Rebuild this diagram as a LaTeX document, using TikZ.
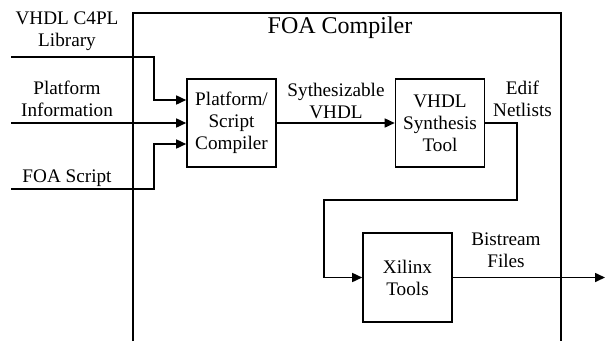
\documentclass[tikz,border=0pt]{standalone}
\usepackage{fontspec}
\setmainfont{Liberation Serif}
\usetikzlibrary{positioning, arrows.meta}

\tikzset{
  wire/.style={line width=1.6pt},
  feed/.style={wire, -{Triangle[length=10pt,width=9pt]}},
  block/.style={draw, line width=1.6pt, minimum width=89pt, minimum height=88pt, inner sep=0pt, align=center},
  caption/.style={align=center, inner sep=0pt}
}

\begin{document}
\begin{tikzpicture}[x=1pt, y=-1pt, font=\fontsize{19.2}{22}\selectfont]
\useasboundingbox (0,0) rectangle (605,341);

% compiler frame (open at the bottom)
\coordinate (frameBL) at (133,341);
\coordinate (frameTR) at (561,13);
\coordinate (frameBR) at (561,341);
\draw[wire] (frameBL) |- (frameTR) -- (frameBR);
\node[caption, font=\fontsize{24}{28}\selectfont] (title) at (340,28) {FOA Compiler};

% blocks
\node[block] (plat) at (231.5,123) {Platform/\\Script\\Compiler};
\node[block] (synth) at (440,123) {VHDL\\Synthesis\\Tool};
\node[block, minimum height=89pt] (xil) at (407.5,277.5) {Xilinx\\Tools};

% inputs
\node[caption] (libtxt) at (67,31) {VHDL C4PL\\Library};
\node[caption] (infotxt) at (67,99) {Platform\\Information};
\node[caption] (scripttxt) at (67,178) {FOA Script};

\coordinate (libin) at (11,57);
\coordinate (libturn) at (154,57);
\coordinate (infoin) at (11,123);
\coordinate (scriptin) at (11,189);
\coordinate (scriptturn) at (154,189);

\draw[feed] (libin) -- (libturn) |- ([yshift=23pt]plat.west);
\draw[feed] (infoin) -- (plat.west);
\draw[feed] (scriptin) -- (scriptturn) |- ([yshift=-21pt]plat.west);

% between blocks
\draw[feed] (plat.east) -- (synth.west);
\node[caption] (vhdltxt) at (336,101) {Sythesizable\\VHDL};

\node[caption] (ediftxt) at (522.5,99) {Edif\\Netlists};
\coordinate (edifturn) at (517,200);
\coordinate (xilturn) at (324,200);
\draw[feed] (synth.east) -| (edifturn) -- (xilturn) |- (xil.west);

% output
\node[caption] (bittxt) at (506,250) {Bistream\\Files};
\coordinate (bitout) at (605,277.5);
\draw[feed] (xil.east) -- (bitout);
\end{tikzpicture}
\end{document}
